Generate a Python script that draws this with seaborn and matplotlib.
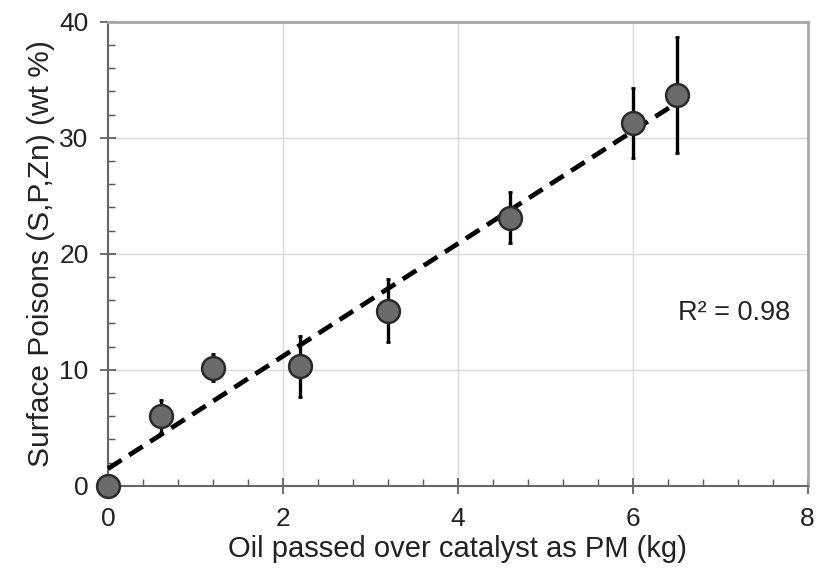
import numpy as np
import pandas as pd
import matplotlib
matplotlib.use("Agg")
import matplotlib.pyplot as plt
import seaborn as sns
from matplotlib.ticker import MultipleLocator

# Data
oil_kg = [0.0, 0.6, 1.2, 2.2, 3.2, 4.6, 6.0, 6.5]
poisons = [0.0, 6.0, 10.2, 10.3, 15.1, 23.1, 31.3, 33.7]
poisons_err = [0.0, 1.4, 1.2, 2.6, 2.7, 2.2, 3.0, 5.0]
x_ticks = [0, 2, 4, 6, 8]
y_ticks = [0, 10, 20, 30, 40]
r2_label = "R² = 0.98"

df = pd.DataFrame({"oil": oil_kg, "poison": poisons, "err": poisons_err})

sns.set_theme(style="white")
plt.rcParams["font.family"] = ["Liberation Sans", "DejaVu Sans"]

fig = plt.figure(figsize=(8.25, 5.75), dpi=100)
ax = fig.add_axes([0.131, 0.155, 0.848, 0.807])

# Grid
ax.set_axisbelow(True)
ax.grid(True, which="major", color="#d9d9d9", linewidth=1.0)

# Trend line
sns.regplot(data=df, x="oil", y="poison", scatter=False, ci=None, truncate=True,
            ax=ax, line_kws=dict(color="black", linewidth=3.4, dashes=(3.4, 1.9),
                                 zorder=3))

# Error bars
ax.errorbar(df["oil"], df["poison"], yerr=df["err"], fmt="none", ecolor="black",
            elinewidth=2.4, capsize=1.5, capthick=2.0, zorder=2)

# Points
sns.scatterplot(data=df, x="oil", y="poison", ax=ax, s=270, color="#6b6b6b",
                edgecolor="#2a2a2a", linewidth=1.8, zorder=4, legend=False)

ax.set_xlim(0, 8)
ax.set_ylim(0, 40)
ax.set_xticks(x_ticks)
ax.set_yticks(y_ticks)
ax.xaxis.set_minor_locator(MultipleLocator(0.4))
ax.yaxis.set_minor_locator(MultipleLocator(2))

ax.tick_params(axis="both", which="major", direction="inout", length=12, width=1.2,
               color="#555555", labelsize=19, labelcolor="#222222")
ax.tick_params(axis="x", which="major", pad=9)
ax.tick_params(axis="y", which="major", pad=8)
ax.tick_params(axis="both", which="minor", direction="in", length=5, width=1.0,
               color="#555555")
ax.tick_params(axis="x", which="both", bottom=True)
ax.tick_params(axis="y", which="both", left=True)

for side in ["left", "bottom"]:
    ax.spines[side].set_color("#666666")
    ax.spines[side].set_linewidth(1.5)
for side in ["top", "right"]:
    ax.spines[side].set_color("#a8a8a8")
    ax.spines[side].set_linewidth(2.0)

ax.set_xlabel("Oil passed over catalyst as PM (kg)", fontsize=21, color="#222222", labelpad=3)
ax.set_ylabel("Surface Poisons (S,P,Zn) (wt %)", fontsize=21.5, color="#222222", labelpad=3)

ax.text(6.52, 14.9, r2_label, fontsize=19.5, color="#222222", ha="left", va="center")

for c in ax.collections + ax.lines:
    c.set_clip_on(False)

fig.savefig("out.png", dpi=100)
